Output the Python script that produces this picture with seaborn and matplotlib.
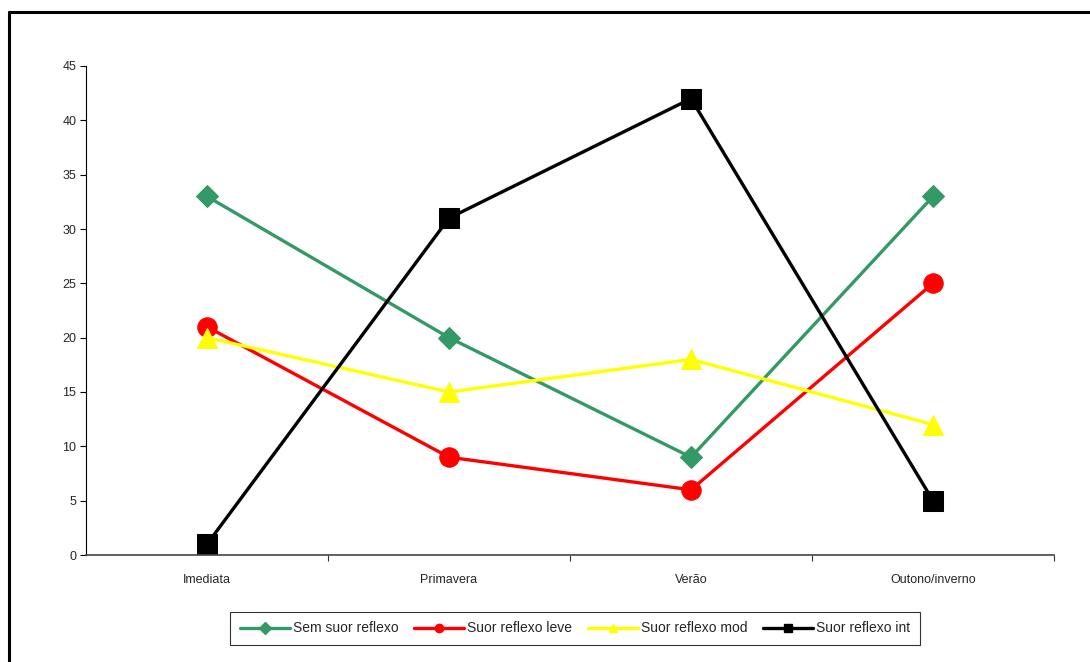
import matplotlib
matplotlib.use("Agg")
import matplotlib.pyplot as plt
from matplotlib.lines import Line2D
import seaborn as sns
import pandas as pd

categories = ["Imediata", "Primavera", "Verão", "Outono/inverno"]
series_names = ["Sem suor reflexo", "Suor reflexo leve", "Suor reflexo mod", "Suor reflexo int"]
sem_suor = [33, 20, 9, 33]
suor_leve = [21, 9, 6, 25]
suor_mod = [20, 15, 18, 12]
suor_int = [1, 31, 42, 5]
y_ticks = [0, 5, 10, 15, 20, 25, 30, 35, 40, 45]

colors = ["#339966", "#ff0000", "#ffff00", "#000000"]
markers = ["D", "o", "^", "s"]
marker_sizes = [11, 14, 14, 14]

sns.set_theme(style="white")
plt.rcParams["font.family"] = ["Liberation Sans", "DejaVu Sans"]

records = []
for name, vals in zip(series_names, [sem_suor, suor_leve, suor_mod, suor_int]):
    for cat, v in zip(categories, vals):
        records.append({"Estação": cat, "Valor": v, "Série": name})
df = pd.DataFrame(records)

fig = plt.figure(figsize=(10.9, 6.62), dpi=100)
ax = fig.add_axes([86 / 1090, (662 - 555) / 662, (1054 - 86) / 1090, (555 - 66) / 662])

sns.lineplot(data=df, x="Estação", y="Valor", hue="Série", style="Série",
             palette=colors, markers=markers, dashes=False, sort=False,
             linewidth=2.4, ax=ax, legend=False)

for line, ms, c in zip(ax.lines, marker_sizes, colors):
    line.set_markersize(ms)
    line.set_markeredgecolor(c)
    line.set_markerfacecolor(c)
    line.set_clip_on(False)

ax.set_xlim(-0.5, 3.5)
ax.set_ylim(0, 45)
ax.set_yticks(y_ticks)
ax.set_xticks(range(len(categories)))
ax.set_xticklabels(categories, fontsize=9)
ax.set_xticks([0.5, 1.5, 2.5, 3.5], minor=True)
ax.tick_params(axis="x", which="major", length=0, pad=14)
ax.tick_params(axis="x", which="minor", length=4, width=0.8, color="#333333", direction="out", bottom=True)
ax.tick_params(axis="y", length=4, width=0.8, color="black", direction="out", left=True, labelsize=9, pad=3)
ax.set_xlabel("")
ax.set_ylabel("")
for side in ["top", "right"]:
    ax.spines[side].set_visible(False)
ax.spines["left"].set_color("black")
ax.spines["left"].set_linewidth(0.8)
ax.spines["bottom"].set_color("#444444")
ax.spines["bottom"].set_linewidth(1.2)

handles = [Line2D([0], [0], color=c, marker=m, markersize=6, linewidth=2.4,
                  markerfacecolor=c, markeredgecolor=c)
           for c, m in zip(colors, markers)]
leg = fig.legend(handles, series_names, loc="center", bbox_to_anchor=(575 / 1090, 1 - 628.5 / 662),
                 ncol=4, fontsize=10, frameon=True, fancybox=False, handlelength=3.6,
                 handletextpad=0.25, columnspacing=1.1, borderpad=0.7, borderaxespad=0)
leg.get_frame().set_edgecolor("black")
leg.get_frame().set_linewidth(0.8)

# outer frame: top and left edges
fig.add_artist(Line2D([9 / 1090, 1.0], [1 - 12 / 662, 1 - 12 / 662], color="black", linewidth=2.2,
                      transform=fig.transFigure))
fig.add_artist(Line2D([9 / 1090, 9 / 1090], [0, 1 - 12 / 662], color="black", linewidth=2.2,
                      transform=fig.transFigure))

fig.savefig("out.png", dpi=100)
